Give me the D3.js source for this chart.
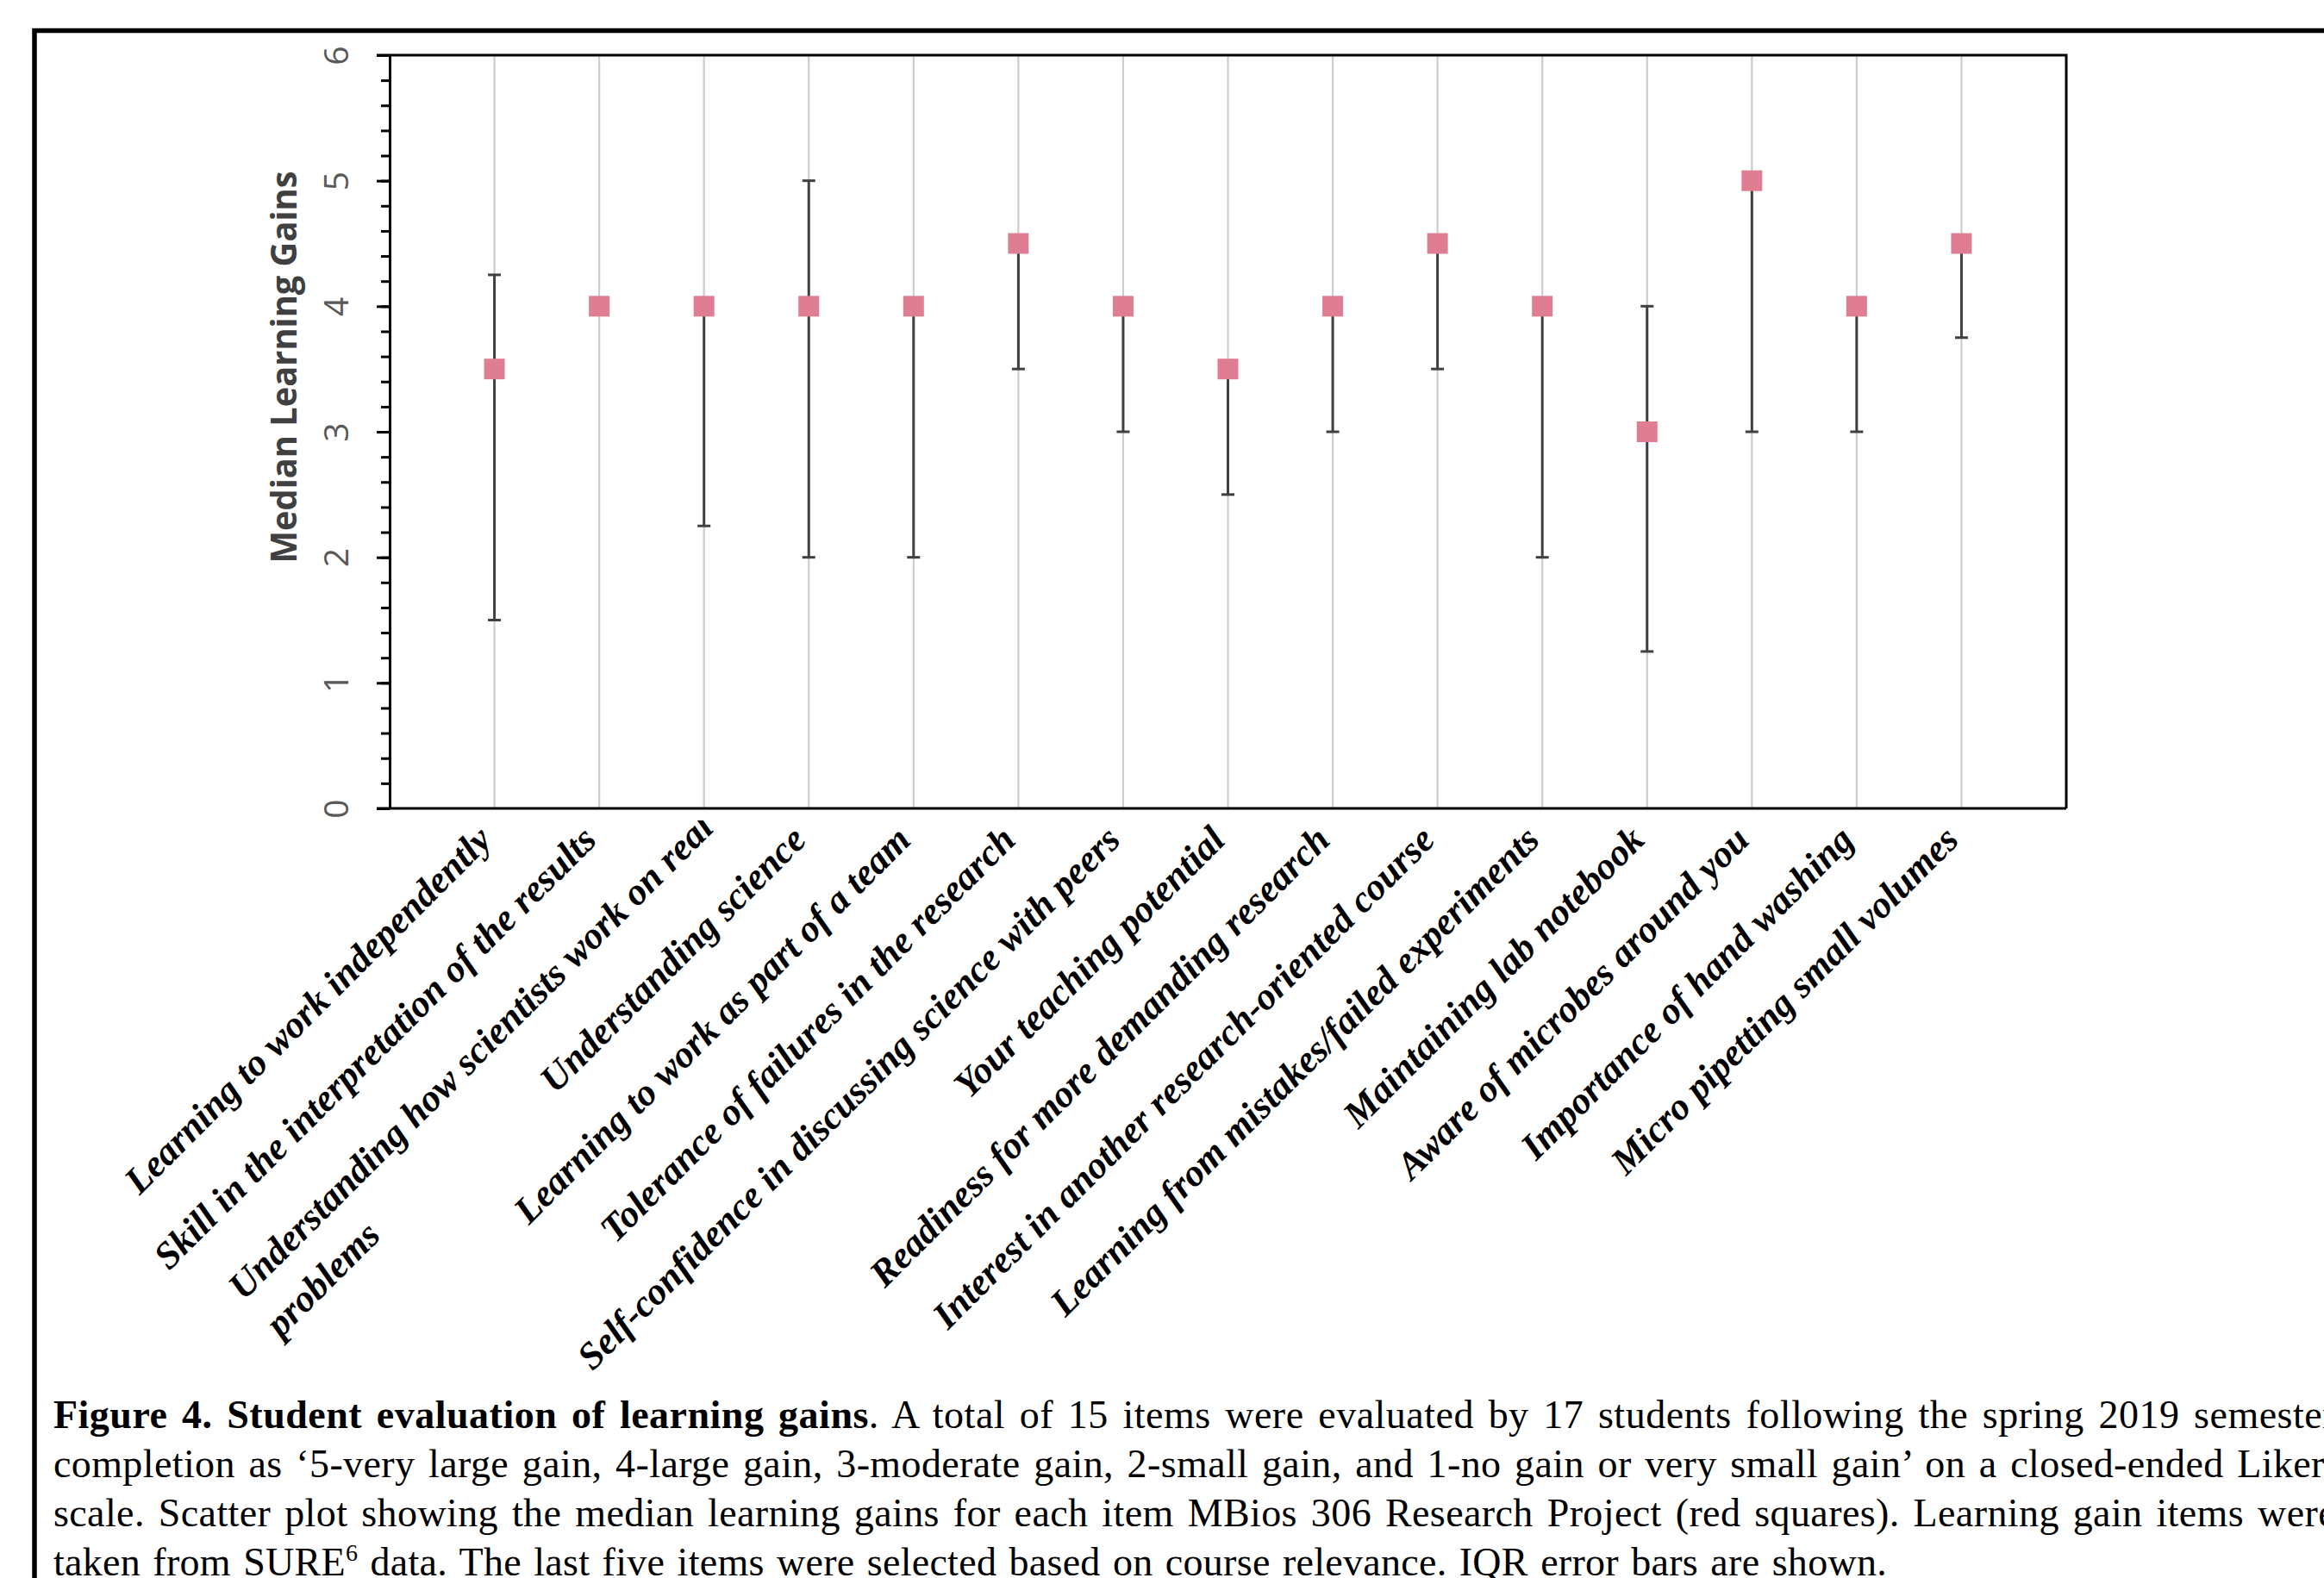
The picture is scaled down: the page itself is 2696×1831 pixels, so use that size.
<!DOCTYPE html>
<html>
<head>
<meta charset="utf-8">
<script src="https://cdn.jsdelivr.net/npm/d3@7"></script>
<style>
  html, body { margin: 0; padding: 0; background: #fff; }
  svg { display: block; }
</style>
</head>
<body>
<svg id="chart" width="2696" height="1831"></svg>
<script>
// Survey items (a "\n" marks where a long label wraps)
const categories = [
  "Learning to work independently",
  "Skill in the interpretation of the results",
  "Understanding how scientists work on real\nproblems",
  "Understanding science",
  "Learning to work as part of a team",
  "Tolerance of failures in the research",
  "Self-confidence in discussing science with peers",
  "Your teaching potential",
  "Readiness for more demanding research",
  "Interest in another research-oriented course",
  "Learning from mistakes/failed experiments",
  "Maintaining lab notebook",
  "Aware of microbes around you",
  "Importance of hand washing",
  "Micro pipetting small volumes"
];
// Median learning gain per item
const medians = [3.5, 4, 4, 4, 4, 4.5, 4, 3.5, 4, 4.5, 4, 3, 5, 4, 4.5];
// Interquartile range: lower and upper bounds
const iqrLow  = [1.5, 4, 2.25, 2, 2, 3.5, 3, 2.5, 3, 3.5, 2, 1.25, 3, 3, 3.75];
const iqrHigh = [4.25, 4, 4, 5, 4, 4.5, 4, 3.5, 4, 4.5, 4, 4, 5, 4, 4.5];
// Y axis ticks
const yTicks = [0, 1, 2, 3, 4, 5, 6];
const yMinorStep = 0.2;
const yTitle = "Median Learning Gains";

// Caption lines
const captionLines = [
  [{t: "Figure 4. Student evaluation of learning gains", b: true},
   {t: ". A total of 15 items were evaluated by 17 students following the spring 2019 semester"}],
  [{t: "completion as \u20185-very large gain, 4-large gain, 3-moderate gain, 2-small gain, and 1-no gain or very small gain\u2019 on a closed-ended Likert"}],
  [{t: "scale. Scatter plot showing the median learning gains for each item MBios 306 Research Project (red squares). Learning gain items were"}],
  [{t: "taken from SURE"}, {t: "6", sup: true}, {t: " data. The last five items were selected based on course relevance. IQR error bars are shown."}]
];
const captionWidths = [2648, 2648, 2648, 2127];

const W = 2696, H = 1831;
const plot = {left: 452, right: 2397, top: 64, bottom: 938};

const svg = d3.select("#chart");
svg.append("rect").attr("width", W).attr("height", H).attr("fill", "#fff");

// outer figure frame (open to the right and bottom)
svg.append("path")
  .attr("d", `M40,${H + 10}V35.5H${W + 10}`)
  .attr("fill", "none").attr("stroke", "#000").attr("stroke-width", 5.5);

const x = d3.scaleLinear().domain([0, categories.length + 1]).range([plot.left, plot.right]);
const y = d3.scaleLinear().domain([0, 6]).range([plot.bottom, plot.top]);

// vertical gridlines at each item
svg.append("g").selectAll("line").data(categories).join("line")
  .attr("x1", (d, i) => x(i + 1)).attr("x2", (d, i) => x(i + 1))
  .attr("y1", y(0)).attr("y2", y(6))
  .attr("stroke", "#cdcdcd").attr("stroke-width", 2.2);

// plot box: top and right borders
svg.append("path")
  .attr("d", `M${plot.left - 15},${y(6)}H${plot.right}V${y(0)}`)
  .attr("fill", "none").attr("stroke", "#000").attr("stroke-width", 3);

// minor y ticks
svg.append("g").attr("transform", `translate(${plot.left},0)`)
  .call(d3.axisLeft(y).tickValues(d3.range(0, 6 + 1e-9, yMinorStep)).tickSize(10).tickFormat(""))
  .call(g => g.select(".domain").remove())
  .call(g => g.selectAll("line").attr("stroke", "#000").attr("stroke-width", 3));

// major y ticks and labels
const yAxis = svg.append("g").attr("transform", `translate(${plot.left},0)`)
  .call(d3.axisLeft(y).tickValues(yTicks).tickSize(15).tickSizeOuter(0).tickFormat(d3.format("d")));
yAxis.select(".domain").attr("stroke", "#000").attr("stroke-width", 3);
yAxis.selectAll(".tick line").attr("stroke", "#000").attr("stroke-width", 3);
yAxis.selectAll(".tick text")
  .attr("x", null).attr("dy", null)
  .attr("transform", "translate(-48,0) rotate(-90)")
  .attr("text-anchor", "middle")
  .attr("font-family", "'Open Sans', sans-serif")
  .attr("font-size", 39)
  .attr("fill", "#595959");

// x axis baseline
svg.append("line")
  .attr("x1", plot.left - 15).attr("x2", plot.right)
  .attr("y1", y(0)).attr("y2", y(0))
  .attr("stroke", "#000").attr("stroke-width", 3);

// y axis title
svg.append("text")
  .attr("transform", `translate(344,${(y(6) + y(0)) / 2 - 75}) rotate(-90)`)
  .attr("text-anchor", "middle")
  .attr("font-family", "'Open Sans', sans-serif")
  .attr("font-weight", "bold")
  .attr("font-size", 41)
  .attr("fill", "#404040")
  .attr("textLength", 455)
  .attr("lengthAdjust", "spacingAndGlyphs")
  .text(yTitle);

// IQR error bars
const capHalf = 7.5;
const bars = svg.append("g").attr("stroke", "#404040").attr("stroke-width", 3).attr("fill", "none");
categories.forEach((c, i) => {
  const cx = x(i + 1);
  if (iqrHigh[i] === iqrLow[i]) return;
  bars.append("line").attr("x1", cx).attr("x2", cx).attr("y1", y(iqrLow[i])).attr("y2", y(iqrHigh[i]));
  bars.append("line").attr("x1", cx - capHalf).attr("x2", cx + capHalf).attr("y1", y(iqrLow[i])).attr("y2", y(iqrLow[i]));
  bars.append("line").attr("x1", cx - capHalf).attr("x2", cx + capHalf).attr("y1", y(iqrHigh[i])).attr("y2", y(iqrHigh[i]));
});

// median markers
const ms = 24;
svg.append("g").selectAll("rect").data(medians).join("rect")
  .attr("x", (d, i) => x(i + 1) - ms / 2)
  .attr("y", d => y(d) - ms / 2)
  .attr("width", ms).attr("height", ms)
  .attr("fill", "#df7e93");

// category labels, rotated, clipped to the label band below the axis
const defs = svg.append("defs");
defs.append("clipPath").attr("id", "labelBand")
  .append("rect").attr("x", 0).attr("y", y(0) + 14).attr("width", W).attr("height", 700);
const labelG = svg.append("g").attr("clip-path", "url(#labelBand)")
  .attr("font-family", "'Liberation Serif', 'Times New Roman', serif")
  .attr("font-weight", "bold").attr("font-style", "italic")
  .attr("font-size", 44).attr("fill", "#000");
const labelLineHeight = 61;
const labelOverflow = 20;
categories.forEach((c, i) => {
  const lines = c.split("\n");
  const g = labelG.append("g")
    .attr("transform", `translate(${x(i + 1) - 1},${y(0) + 39}) rotate(-45)`);
  if (lines.length === 1) {
    g.append("text").attr("text-anchor", "end").text(c);
  } else {
    const t1 = g.append("text").attr("text-anchor", "start").text(lines[0]);
    const start = labelOverflow - t1.node().getComputedTextLength();
    t1.attr("x", start);
    lines.slice(1).forEach((ln, k) => {
      g.append("text").attr("x", start).attr("y", (k + 1) * labelLineHeight).text(ln);
    });
  }
});

// figure caption, justified by sharing the slack between letters and word gaps
const cap = svg.append("g")
  .attr("font-family", "'Liberation Serif', 'Times New Roman', serif")
  .attr("font-size", 46).attr("fill", "#000");
captionLines.forEach((parts, li) => {
  const t = cap.append("text").attr("x", 62).attr("y", 1657 + li * 57);
  parts.forEach((p, k) => {
    const ts = t.append("tspan").text(p.t);
    if (p.b) ts.attr("font-weight", "bold");
    if (p.sup) ts.attr("font-size", 28).attr("dy", -17);
    else if (k > 0 && parts[k - 1].sup) ts.attr("dy", 17);
  });
  const natural = t.node().getComputedTextLength();
  const full = parts.map(p => p.t).join("");
  const spaces = full.split(" ").length - 1;
  const slack = captionWidths[li] - natural;
  const ls = (slack * 0.4) / full.length;
  t.attr("letter-spacing", ls);
  if (spaces > 0) t.attr("word-spacing", (slack * 0.6) / spaces);
});
</script>
</body>
</html>
